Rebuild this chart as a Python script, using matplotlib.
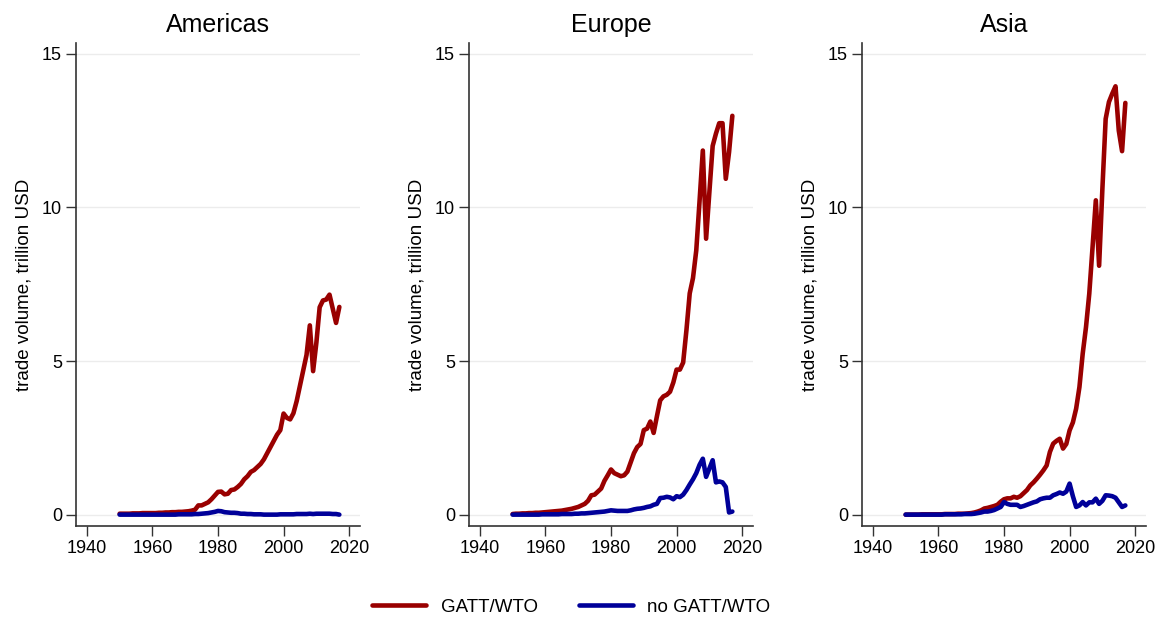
import numpy as np
import matplotlib.pyplot as plt

plt.rcParams["font.family"] = ["Liberation Sans", "DejaVu Sans"]

years = np.arange(1950, 2018)

# trade volume, trillion USD
americas_gatt = [0.03, 0.03, 0.03, 0.03, 0.04, 0.04, 0.04, 0.05, 0.05, 0.05,
                 0.05, 0.05, 0.06, 0.06, 0.07, 0.07, 0.08, 0.08, 0.09, 0.09,
                 0.10, 0.11, 0.13, 0.16, 0.30, 0.30, 0.35, 0.40, 0.50, 0.62,
                 0.74, 0.75, 0.66, 0.68, 0.80, 0.82, 0.90, 1.00, 1.15, 1.25,
                 1.39, 1.45, 1.55, 1.65, 1.80, 2.00, 2.20, 2.40, 2.60, 2.75,
                 3.29, 3.15, 3.10, 3.30, 3.70, 4.20, 4.70, 5.20, 6.16, 4.67,
                 5.60, 6.75, 6.97, 7.00, 7.16, 6.70, 6.24, 6.76]
americas_nogatt = [0.00, 0.00, 0.00, 0.00, 0.00, 0.00, 0.00, 0.00, 0.00, 0.00,
                   0.00, 0.00, 0.00, 0.00, 0.00, 0.00, 0.00, 0.00, 0.01, 0.01,
                   0.01, 0.01, 0.01, 0.02, 0.02, 0.03, 0.04, 0.05, 0.07, 0.09,
                   0.12, 0.11, 0.08, 0.07, 0.06, 0.06, 0.05, 0.03, 0.03, 0.02,
                   0.02, 0.01, 0.01, 0.01, 0.00, 0.00, 0.00, 0.00, 0.00, 0.01,
                   0.01, 0.01, 0.01, 0.01, 0.02, 0.02, 0.02, 0.02, 0.03, 0.02,
                   0.03, 0.03, 0.03, 0.03, 0.03, 0.02, 0.02, 0.00]

europe_gatt = [0.02, 0.03, 0.03, 0.04, 0.04, 0.05, 0.05, 0.06, 0.06, 0.07,
               0.08, 0.09, 0.10, 0.11, 0.12, 0.13, 0.15, 0.17, 0.19, 0.22,
               0.25, 0.30, 0.35, 0.45, 0.63, 0.65, 0.75, 0.85, 1.10, 1.28,
               1.47, 1.35, 1.30, 1.25, 1.28, 1.40, 1.70, 2.00, 2.20, 2.30,
               2.75, 2.80, 3.03, 2.66, 3.20, 3.72, 3.85, 3.90, 4.00, 4.30,
               4.72, 4.72, 4.95, 6.00, 7.20, 7.70, 8.60, 10.20, 11.85, 8.98,
               10.50, 12.00, 12.40, 12.74, 12.74, 10.93, 11.80, 12.98]
europe_nogatt = [0.00, 0.00, 0.00, 0.00, 0.00, 0.00, 0.00, 0.00, 0.00, 0.01,
                 0.01, 0.01, 0.01, 0.01, 0.01, 0.02, 0.02, 0.02, 0.02, 0.03,
                 0.03, 0.04, 0.04, 0.05, 0.06, 0.07, 0.08, 0.09, 0.10, 0.12,
                 0.14, 0.13, 0.12, 0.12, 0.12, 0.12, 0.14, 0.17, 0.19, 0.20,
                 0.22, 0.25, 0.27, 0.32, 0.35, 0.54, 0.55, 0.58, 0.56, 0.50,
                 0.60, 0.57, 0.65, 0.80, 0.98, 1.15, 1.35, 1.62, 1.82, 1.23,
                 1.50, 1.77, 1.05, 1.08, 1.05, 0.90, 0.07, 0.10]

asia_gatt = [0.00, 0.00, 0.00, 0.00, 0.00, 0.01, 0.01, 0.01, 0.01, 0.01,
             0.01, 0.01, 0.02, 0.02, 0.02, 0.02, 0.03, 0.03, 0.03, 0.04,
             0.05, 0.07, 0.10, 0.14, 0.20, 0.22, 0.25, 0.28, 0.32, 0.42,
             0.50, 0.53, 0.53, 0.58, 0.55, 0.60, 0.70, 0.80, 0.95, 1.05,
             1.17, 1.30, 1.44, 1.60, 2.04, 2.31, 2.40, 2.47, 2.15, 2.30,
             2.74, 3.00, 3.45, 4.15, 5.24, 6.10, 7.19, 8.70, 10.23, 8.10,
             10.60, 12.88, 13.43, 13.70, 13.94, 12.50, 11.83, 13.40]
asia_nogatt = [0.00, 0.00, 0.00, 0.00, 0.00, 0.00, 0.00, 0.00, 0.00, 0.00,
               0.00, 0.00, 0.01, 0.01, 0.01, 0.01, 0.01, 0.01, 0.02, 0.02,
               0.02, 0.03, 0.05, 0.07, 0.10, 0.10, 0.12, 0.15, 0.20, 0.25,
               0.41, 0.35, 0.32, 0.32, 0.32, 0.25, 0.28, 0.32, 0.36, 0.40,
               0.43, 0.50, 0.53, 0.55, 0.55, 0.63, 0.67, 0.72, 0.68, 0.75,
               1.01, 0.60, 0.25, 0.30, 0.41, 0.30, 0.40, 0.40, 0.52, 0.35,
               0.45, 0.63, 0.62, 0.60, 0.55, 0.40, 0.25, 0.30]

regions = ["Americas", "Europe", "Asia"]
gatt = [americas_gatt, europe_gatt, asia_gatt]
nogatt = [americas_nogatt, europe_nogatt, asia_nogatt]

red = "#990000"
blue = "#000099"

fig = plt.figure(figsize=(11.61, 6.17), dpi=100)
W, H = 1161, 617
lefts = [76, 469, 862]

for i, name in enumerate(regions):
    ax = fig.add_axes([lefts[i] / W, (H - 526) / H, 284 / W, (526 - 43) / H])
    ax.plot(years, gatt[i], color=red, lw=3.3, solid_capstyle="round",
            label="GATT/WTO", zorder=3)
    ax.plot(years, nogatt[i], color=blue, lw=3.3, solid_capstyle="round",
            label="no GATT/WTO", zorder=3)
    ax.set_xlim(1936.7, 2023.3)
    ax.set_ylim(-0.37, 15.35)
    ax.set_xticks([1940, 1960, 1980, 2000, 2020])
    ax.set_yticks([0, 5, 10, 15])
    ax.grid(axis="y", color="#ececec", lw=1)
    ax.set_axisbelow(True)
    for s in ["top", "right"]:
        ax.spines[s].set_visible(False)
    for s in ["left", "bottom"]:
        ax.spines[s].set_color("#333333")
        ax.spines[s].set_linewidth(1.2)
    ax.tick_params(labelsize=13, length=7, width=1, color="#333333", pad=3)
    ax.set_title(name, fontsize=18, pad=8)
    ax.set_ylabel("trade volume, trillion USD", fontsize=13.5, labelpad=7)

handles, labels = ax.get_legend_handles_labels()
fig.legend(handles, labels, loc="center", bbox_to_anchor=(0.492, (H - 607) / H),
           bbox_transform=fig.transFigure, ncol=2, frameon=False,
           fontsize=13.5, handlelength=2.9, columnspacing=2.2, handletextpad=0.75)

fig.savefig("out.png", dpi=100)
